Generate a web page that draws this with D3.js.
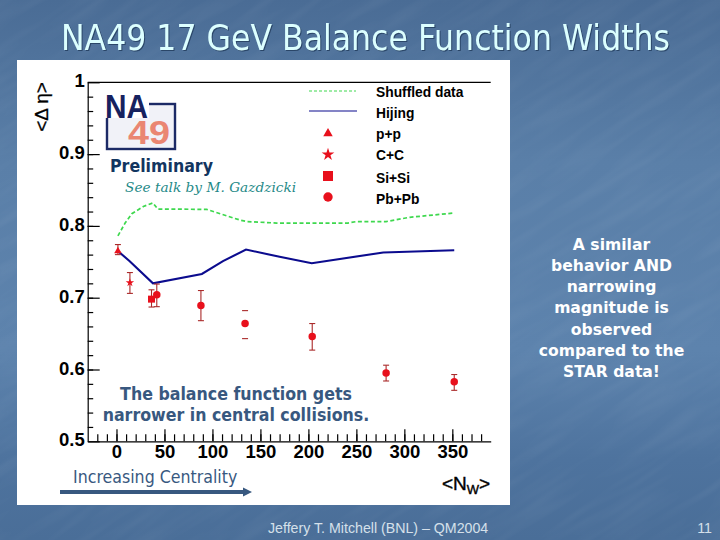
<!DOCTYPE html>
<html lang="en">
<head>
<meta charset="UTF-8">
<title>NA49 17 GeV Balance Function Widths</title>
<script src="https://d3js.org/d3.v7.min.js"></script>
<style>
  html, body { margin: 0; padding: 0; background: #4a6f9b; }
  svg { display: block; }
</style>
</head>
<body>
<svg id="slide" width="720" height="540"></svg>
<script>
// values
const hijingX = [1.5, 13.5, 38, 89, 111, 135, 170, 203.5, 278, 352];
const hijingY = [0.765, 0.751, 0.72, 0.733, 0.751, 0.767, 0.757, 0.748, 0.763, 0.766];
const shuffledX = [1.5, 9, 16, 28, 38, 43, 94, 129, 136, 167, 201.5, 241, 250, 281, 305.6, 352];
const shuffledY = [0.786, 0.804, 0.817, 0.827, 0.832, 0.8235, 0.823, 0.808, 0.806, 0.804, 0.804, 0.804, 0.806, 0.806, 0.812, 0.818];

const ppX = [1.5], ppY = [0.765], ppHi = [0.774], ppLo = [0.76];
const ccX = [14], ccY = [0.721], ccHi = [0.735], ccLo = [0.706];
const siX = [36.5], siY = [0.698], siHi = [0.711], siLo = [0.687];
const pbX = [42, 88, 134, 204, 281, 352];
const pbY = [0.704, 0.689, 0.664, 0.646, 0.595, 0.583];
const pbHi = [0.719, 0.71, 0.682, 0.664, 0.606, 0.593];
const pbLo = [0.6875, 0.668, 0.643, 0.627, 0.584, 0.571];

const xTicks = [0, 50, 100, 150, 200, 250, 300, 350];
const yTicks = [0.5, 0.6, 0.7, 0.8, 0.9, 1];
const legendLabels = ["Shuffled data", "Hijing", "p+p", "C+C", "Si+Si", "Pb+Pb"];
const bulletLines = ["A similar", "behavior AND", "narrowing", "magnitude is", "observed", "compared to the", "STAR data!"];

const svg = d3.select("#slide");
const defs = svg.append("defs");
const bg = defs.append("linearGradient").attr("id", "bg").attr("x1", 0).attr("y1", 0).attr("x2", 0).attr("y2", 1);
[[0, "#4a6c95"], [0.3, "#5a7fa8"], [0.65, "#5d83ad"], [0.85, "#4e739e"], [1, "#4a6e98"]].forEach(s =>
  bg.append("stop").attr("offset", s[0]).attr("stop-color", s[1]));

// faint streaks like the slide's background texture
const streak = defs.append("filter").attr("id", "streak").attr("x", 0).attr("y", 0).attr("width", 1).attr("height", 1);
streak.append("feTurbulence").attr("type", "fractalNoise").attr("baseFrequency", "0.012 0.09").attr("numOctaves", 2).attr("seed", 4);
streak.append("feColorMatrix").attr("type", "matrix").attr("values", "0 0 0 0 1  0 0 0 0 1  0 0 0 0 1  0.9 0 0 0 -0.36");

svg.append("rect").attr("width", 720).attr("height", 540).attr("fill", "url(#bg)");
svg.append("rect").attr("x", -200).attr("y", -200).attr("width", 1200).attr("height", 1000)
  .attr("filter", "url(#streak)").attr("opacity", 0.1).attr("transform", "rotate(-32 360 270)");
svg.append("rect").attr("x", 17).attr("y", 60).attr("width", 493).attr("height", 445).attr("fill", "#fff");

svg.append("text").text("NA49 17 GeV Balance Function Widths")
  .attr("x", 61).attr("y", 50)
  .attr("font-family", "'DejaVu Sans Condensed','DejaVu Sans',sans-serif")
  .attr("font-size", 36).attr("fill", "#dcffff")
  .attr("textLength", 609).attr("lengthAdjust", "spacingAndGlyphs")
  .style("filter", "drop-shadow(1.2px 1.2px 0 #2a4668)");

const x = d3.scaleLinear().domain([-30, 390]).range([87.7, 490.7]);
const y = d3.scaleLinear().domain([0.5, 1]).range([441.3, 82.3]);

const labelFont = "'Liberation Sans',Arial,sans-serif";

// minor ticks first, then major ticks with labels
svg.append("g").attr("transform", "translate(0,441.3)")
  .call(d3.axisBottom(x).tickValues(d3.range(-20, 381, 10)).tickSize(-7).tickSizeOuter(0).tickFormat(""))
  .call(g => g.selectAll("path,line").attr("stroke", "#000").attr("stroke-width", 1.2));
svg.append("g").attr("transform", "translate(0,441.3)")
  .call(d3.axisBottom(x).tickValues(xTicks).tickSize(-12).tickFormat(d3.format("d")))
  .call(g => g.select(".domain").remove())
  .call(g => g.selectAll("line").attr("stroke", "#000").attr("stroke-width", 1.2))
  .call(g => g.selectAll("text").attr("y", 4).attr("dy", "0.71em").attr("fill", "#000")
    .attr("font-family", labelFont).attr("font-weight", "bold").attr("font-size", 18.5));

svg.append("g").attr("transform", "translate(87.7,0)")
  .call(d3.axisLeft(y).tickValues(d3.range(0.52, 0.999, 0.02)).tickSize(-5.5).tickSizeOuter(0).tickFormat(""))
  .call(g => g.selectAll("path,line").attr("stroke", "#000").attr("stroke-width", 1.2));
svg.append("g").attr("transform", "translate(87.7,0)")
  .call(d3.axisLeft(y).tickValues(yTicks).tickSize(-12).tickFormat(d => d === 1 ? "1" : d3.format(".1f")(d)))
  .call(g => g.select(".domain").remove())
  .call(g => g.selectAll("line").attr("stroke", "#000").attr("stroke-width", 1.2))
  .call(g => g.selectAll("text").attr("x", -3).attr("dy", "0.25em").attr("fill", "#000")
    .attr("font-family", labelFont).attr("font-weight", "bold").attr("font-size", 18.5));

svg.append("line").attr("x1", 87.7).attr("x2", 490.7).attr("y1", 82.3).attr("y2", 82.3)
  .attr("stroke", "#000").attr("stroke-width", 1.2);

// axis titles
svg.append("text").attr("transform", "translate(48,107) rotate(-90)").attr("text-anchor", "middle")
  .attr("font-family", labelFont).attr("font-size", 19).attr("fill", "#000")
  .attr("stroke", "#000").attr("stroke-width", 0.3)
  .text("<Δ η>");
const xt = svg.append("text").attr("x", 442).attr("y", 490)
  .attr("font-family", labelFont).attr("font-size", 19).attr("fill", "#000")
  .attr("stroke", "#000").attr("stroke-width", 0.4);
xt.append("tspan").text("<N");
xt.append("tspan").text("W").attr("font-size", 13).attr("dy", 4);
xt.append("tspan").text(">").attr("dy", -4);

// NA49 logo
const logo = svg.append("g").attr("font-family", labelFont).attr("font-weight", "bold");
logo.append("rect").attr("x", 107).attr("y", 104).attr("width", 68).attr("height", 45)
  .attr("fill", "#f1f2f8").attr("stroke", "#1c2a66").attr("stroke-width", 2.4);
logo.append("rect").attr("x", 104).attr("y", 92).attr("width", 45).attr("height", 26).attr("fill", "#fff");
logo.append("text").text("NA").attr("x", 105).attr("y", 118).attr("font-size", 33).attr("fill", "#16225f")
  .attr("textLength", 43).attr("lengthAdjust", "spacingAndGlyphs");
logo.append("text").text("49").attr("x", 128).attr("y", 144).attr("font-size", 34).attr("fill", "#ea8672")
  .attr("textLength", 42).attr("lengthAdjust", "spacingAndGlyphs");

const bodyFont = "'DejaVu Sans Condensed','DejaVu Sans',sans-serif";
svg.append("text").text("Preliminary").attr("x", 110).attr("y", 172)
  .attr("font-family", bodyFont).attr("font-weight", "bold").attr("font-size", 17.6).attr("fill", "#12355f");
svg.append("text").text("See talk by M. Gazdzicki").attr("x", 125).attr("y", 192)
  .attr("font-family", "'DejaVu Serif',serif").attr("font-style", "italic").attr("font-size", 13.7).attr("fill", "#1f8a88");

// lines
const line = d3.line().x(d => x(d[0])).y(d => y(d[1]));
svg.append("path").datum(d3.zip(shuffledX, shuffledY)).attr("d", line)
  .attr("fill", "none").attr("stroke", "#3ed84e").attr("stroke-width", 1.7).attr("stroke-dasharray", "4 2.5");
svg.append("path").datum(d3.zip(hijingX, hijingY)).attr("d", line)
  .attr("fill", "none").attr("stroke", "#0b0b8e").attr("stroke-width", 2.1);

// error bars; the Pb+Pb point at 134 only shows its caps in the reference
const errColor = "#aa2a2a";
function errorBars(xs, hi, lo) {
  const g = svg.append("g").attr("stroke", errColor).attr("stroke-width", 1.1);
  xs.forEach((v, i) => {
    if (v !== 134) g.append("line").attr("x1", x(v)).attr("x2", x(v)).attr("y1", y(hi[i])).attr("y2", y(lo[i]));
    [hi[i], lo[i]].forEach(e => g.append("line")
      .attr("x1", x(v) - 3).attr("x2", x(v) + 3).attr("y1", y(e)).attr("y2", y(e)));
  });
}
errorBars(ppX, ppHi, ppLo);
errorBars(ccX, ccHi, ccLo);
errorBars(siX, siHi, siLo);
errorBars(pbX, pbHi, pbLo);

// markers, the legend ones are drawn bigger than the data ones
const red = "#e8101c";
function markers(xs, ys, s) {
  svg.append("g").selectAll("path").data(d3.zip(xs, ys)).join("path")
    .attr("d", s).attr("fill", red)
    .attr("transform", d => `translate(${x(d[0])},${y(d[1])})`);
}
markers(siX, siY, d3.symbol(d3.symbolSquare, 49));
markers(ccX, ccY, d3.symbol(d3.symbolStar, 22));
markers(pbX, pbY, d3.symbol(d3.symbolCircle, 44));
markers(ppX, ppY, d3.symbol(d3.symbolTriangle, 24));

// legend
const legendY = [97, 118, 139, 160, 182.5, 204];
const legendG = svg.append("g");
legendG.selectAll("text").data(legendLabels).join("text")
  .text(d => d).attr("x", 376).attr("y", (d, i) => legendY[i])
  .attr("font-family", labelFont).attr("font-size", 13.8).attr("fill", "#000").attr("font-weight", "bold");
legendG.append("line").attr("x1", 309).attr("x2", 356).attr("y1", 91).attr("y2", 91)
  .attr("stroke", "#3ed84e").attr("stroke-width", 1).attr("stroke-dasharray", "3 2");
legendG.append("line").attr("x1", 309).attr("x2", 357).attr("y1", 111).attr("y2", 111)
  .attr("stroke", "#0b0b8e").attr("stroke-width", 1.2);
[d3.symbol(d3.symbolTriangle, 39), d3.symbol(d3.symbolStar, 50), d3.symbol(d3.symbolSquare, 100), d3.symbol(d3.symbolCircle, 69)].forEach((s, i) => {
  legendG.append("path").attr("d", s).attr("fill", red)
    .attr("transform", `translate(328,${[133.5, 154.5, 176, 197][i]})`);
});

// annotations
svg.append("text").attr("text-anchor", "middle").attr("font-family", bodyFont).attr("font-weight", "bold")
  .attr("font-size", 17.6).attr("fill", "#38587f")
  .selectAll("tspan").data(["The balance function gets", "narrower in central collisions."]).join("tspan")
  .attr("x", 236).attr("y", (d, i) => 399.5 + i * 21).text(d => d);

svg.append("text").text("Increasing Centrality").attr("x", 73).attr("y", 483)
  .attr("font-family", bodyFont).attr("font-size", 17.6).attr("fill", "#38587f");
svg.append("line").attr("x1", 60).attr("x2", 245).attr("y1", 492).attr("y2", 492)
  .attr("stroke", "#38587f").attr("stroke-width", 4);
svg.append("path").attr("d", d3.line()([[243, 487.5], [252, 492], [243, 496.5]])).attr("fill", "#38587f");

svg.append("text").attr("text-anchor", "middle").attr("font-family", "'DejaVu Sans',sans-serif")
  .attr("font-weight", "bold").attr("font-size", 15.6).attr("fill", "#fff")
  .selectAll("tspan").data(bulletLines).join("tspan")
  .attr("x", 611.5).attr("y", (d, i) => 249.5 + i * 21.3).text(d => d);

// footer
svg.append("text").text("Jeffery T. Mitchell (BNL) – QM2004").attr("x", 268).attr("y", 533)
  .attr("font-family", labelFont).attr("font-size", 14.2).attr("fill", "#d5e0ea");
svg.append("text").text("11").attr("x", 712).attr("y", 533).attr("text-anchor", "end")
  .attr("font-family", labelFont).attr("font-size", 14.2).attr("fill", "#d5e0ea");
</script>
</body>
</html>
